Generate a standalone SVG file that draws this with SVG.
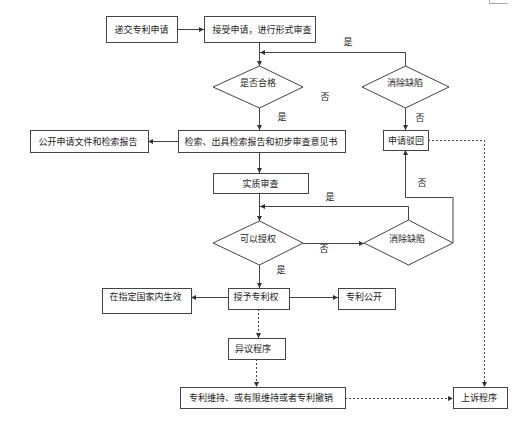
<svg xmlns="http://www.w3.org/2000/svg" width="531" height="436" viewBox="0 0 531 436">
<defs>
<style>
.box{fill:#fff;stroke:#444;stroke-width:1}
.t{font-family:"Noto Sans CJK SC","Liberation Sans",sans-serif;font-size:9px;fill:#222;text-anchor:middle}
.c{fill:none;stroke:#444;stroke-width:1;marker-end:url(#ah)}
.d{stroke-dasharray:2,2}
</style>
<marker id="ah" markerWidth="6" markerHeight="6" refX="5" refY="3" orient="auto" markerUnits="userSpaceOnUse">
<path d="M0,0.5 L5,3 L0,5.5 Z" fill="#333"/>
</marker>
</defs>
<rect width="531" height="436" fill="#fff"/>
<path d="M489.5,0 V3.5 H508" fill="none" stroke="#aaa" stroke-width="1"/>

<g id="connectors">
<path class="c" d="M177,29.5 H204"/>
<path class="c" d="M259.5,42 V66"/>
<path class="c" d="M405.5,66 V52.5 H260"/>
<path class="c" d="M259.5,108 V130"/>
<path class="c" d="M405.5,108 V130"/>
<path class="c" d="M178,141.5 H148"/>
<path class="c" d="M259.5,152 V173"/>
<path class="c" d="M259.5,193 V221"/>
<path class="c" d="M408.5,220 V206.5 H260"/>
<path class="c" d="M303,243.5 H364"/>
<path class="c" d="M453,243 V197.5 H405.5 V150"/>
<path class="c" d="M259.5,265 V288"/>
<path class="c" d="M228,297.5 H191"/>
<path class="c" d="M289,297.5 H338"/>
<path class="c d" d="M258.5,309 V338"/>
<path class="c d" d="M256.5,359 V387"/>
<path class="c d" d="M345,398.5 H453"/>
<path class="c d" d="M428,140.5 H484.5 V387"/>
<text class="t" x="348" y="45">是</text>
<text class="t" x="325" y="100">否</text>
<text class="t" x="282" y="120">是</text>
<text class="t" x="420" y="121">否</text>
<text class="t" x="330" y="200">是</text>
<text class="t" x="324" y="252">否</text>
<text class="t" x="422" y="186">否</text>
<text class="t" x="281" y="273">是</text>
</g>

<g id="n1"><rect class="box" x="106.5" y="16.5" width="71" height="26"/><text class="t" x="141.5" y="33">递交专利申请</text></g>
<g id="n2"><rect class="box" x="204.5" y="16.5" width="111" height="26"/><text class="t" x="262" y="33">接受申请，进行形式审查</text></g>
<g id="n3"><path class="box" d="M259.5,66 L303,87 L259.5,108 L213,87 Z"/><text class="t" x="258" y="86">是否合格</text></g>
<g id="n4"><path class="box" d="M405.5,66 L449,87 L405.5,108 L362,87 Z"/><text class="t" x="405" y="86">消除缺陷</text></g>
<g id="n5"><rect class="box" x="30.5" y="130.5" width="118" height="22"/><text class="t" x="88" y="145">公开申请文件和检索报告</text></g>
<g id="n6"><rect class="box" x="178.5" y="130.5" width="167" height="22"/><text class="t" x="261" y="145">检索、出具检索报告和初步审查意见书</text></g>
<g id="n7"><rect class="box" x="383.5" y="130.5" width="45" height="20"/><text class="t" x="406" y="144">申请驳回</text></g>
<g id="n8"><rect class="box" x="213.5" y="173.5" width="95" height="20"/><text class="t" x="260.5" y="187">实质审查</text></g>
<g id="n9"><path class="box" d="M259.5,221 L303,243 L259.5,265 L213,243 Z"/><text class="t" x="258" y="242">可以授权</text></g>
<g id="n10"><path class="box" d="M408.5,220 L453,243 L408.5,265 L364,243 Z"/><text class="t" x="407" y="242">消除缺陷</text></g>
<g id="n11"><rect class="box" x="102.5" y="288.5" width="89" height="25"/><text class="t" x="145.5" y="300">在指定国家内生效</text></g>
<g id="n12"><rect class="box" x="228.5" y="288.5" width="61" height="21"/><text class="t" x="256" y="300">授予专利权</text></g>
<g id="n13"><rect class="box" x="338.5" y="288.5" width="57" height="21"/><text class="t" x="364" y="300">专利公开</text></g>
<g id="n14"><rect class="box" x="228.5" y="338.5" width="57" height="21"/><text class="t" x="253" y="352">异议程序</text></g>
<g id="n15"><rect class="box" x="180.5" y="387.5" width="165" height="21"/><text class="t" x="261" y="401">专利维持、或有限维持或者专利撤销</text></g>
<g id="n16"><rect class="box" x="453.5" y="387.5" width="54" height="21"/><text class="t" x="479" y="401">上诉程序</text></g>
</svg>
